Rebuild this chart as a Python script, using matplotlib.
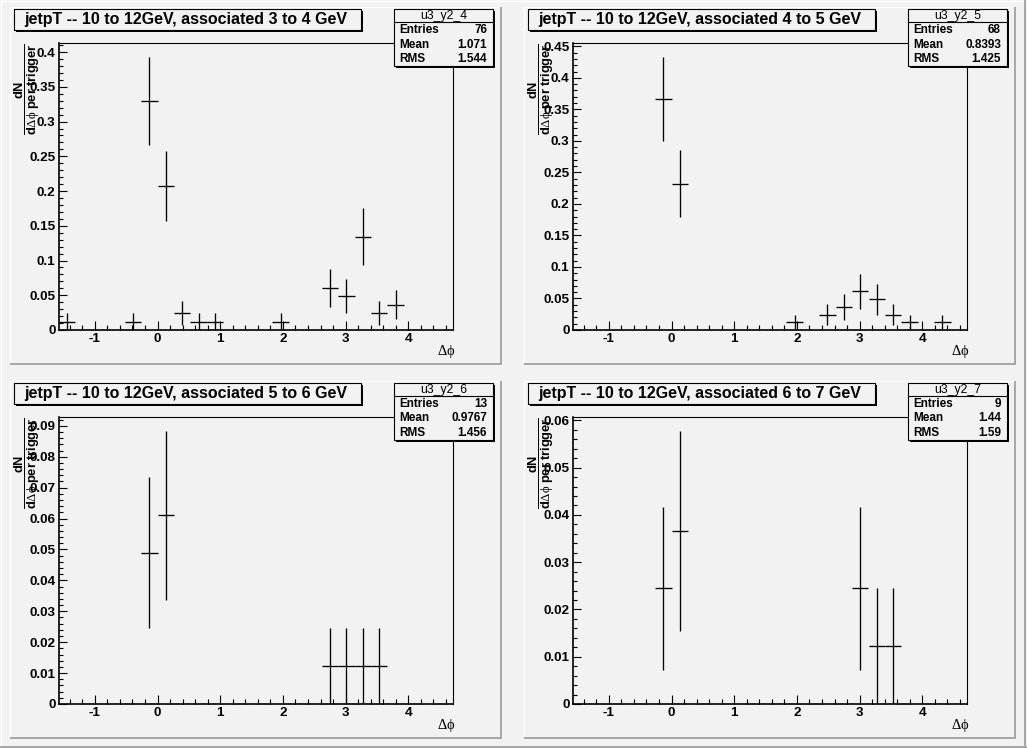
import numpy as np
import matplotlib
matplotlib.use('Agg')
import matplotlib.pyplot as plt
from matplotlib.lines import Line2D
from matplotlib.patches import Rectangle
from matplotlib.ticker import MultipleLocator, FuncFormatter

plt.rcParams['font.family'] = ['Liberation Sans', 'DejaVu Sans']
plt.rcParams['axes.unicode_minus'] = False
plt.rcParams['mathtext.fontset'] = 'custom'
plt.rcParams['mathtext.rm'] = 'Liberation Serif'
plt.rcParams['mathtext.it'] = 'Liberation Serif:italic'
plt.rcParams['mathtext.bf'] = 'Liberation Sans:bold'

W, H = 1027, 748
BG = '#f2f2f2'

# delta phi binning: 24 bins from -pi/2 to 3pi/2
edges = np.linspace(-np.pi / 2, 3 * np.pi / 2, 25)
centers = 0.5 * (edges[1:] + edges[:-1])
halfw = 0.5 * (edges[1] - edges[0])

# raw pair counts per bin, one list per associated pT slice
counts_3to4 = [1, 0, 0, 0, 1, 27, 17, 2, 1, 1, 0, 0, 0, 1, 0, 0, 5, 4, 11, 2, 3, 0, 0, 0]
counts_4to5 = [0, 0, 0, 0, 0, 30, 19, 0, 0, 0, 0, 0, 0, 1, 0, 2, 3, 5, 4, 2, 1, 0, 1, 0]
counts_5to6 = [0, 0, 0, 0, 0, 4, 5, 0, 0, 0, 0, 0, 0, 0, 0, 0, 1, 1, 1, 1, 0, 0, 0, 0]
counts_6to7 = [0, 0, 0, 0, 0, 2, 3, 0, 0, 0, 0, 0, 0, 0, 0, 0, 0, 2, 1, 1, 0, 0, 0, 0]
all_counts = [counts_3to4, counts_4to5, counts_5to6, counts_6to7]

# 1 / (N_trig * bin width)
per_trigger = 0.01222

titles = ['jetpT -- 10 to 12GeV, associated 3 to 4 GeV',
          'jetpT -- 10 to 12GeV, associated 4 to 5 GeV',
          'jetpT -- 10 to 12GeV, associated 5 to 6 GeV',
          'jetpT -- 10 to 12GeV, associated 6 to 7 GeV']
hist_names = ['u3_y2_4', 'u3_y2_5', 'u3_y2_6', 'u3_y2_7']
entries = ['76', '68', '13', '9']
means = ['1.071', '0.8393', '0.9767', '1.44']
rms = ['1.544', '1.425', '1.456', '1.59']
ymajor = [0.05, 0.05, 0.01, 0.01]


def fx(px):
    return px / W


def fy(py):
    return 1 - py / H


def hline(fig, x0, x1, y, color, lw):
    fig.add_artist(Line2D([fx(x0), fx(x1)], [fy(y), fy(y)], transform=fig.transFigure,
                          color=color, lw=lw, solid_capstyle='butt'))


def vline(fig, x, y0, y1, color, lw):
    fig.add_artist(Line2D([fx(x), fx(x)], [fy(y0), fy(y1)], transform=fig.transFigure,
                          color=color, lw=lw, solid_capstyle='butt'))


def box(fig, x0, y0, x1, y1, shadow=2):
    # black drop shadow, then the filled box on top
    fig.add_artist(Rectangle((fx(x0 + shadow), fy(y1 + shadow)), (x1 - x0) / W, (y1 - y0) / H,
                             transform=fig.transFigure, facecolor='black', edgecolor='none', zorder=4))
    fig.add_artist(Rectangle((fx(x0), fy(y1)), (x1 - x0) / W, (y1 - y0) / H,
                             transform=fig.transFigure, facecolor=BG, edgecolor='black', lw=0.8, zorder=5))


fig = plt.figure(figsize=(W / 100, H / 100), dpi=100, facecolor=BG)

# canvas bevel
hline(fig, 0, W, 0.5, 'white', 1.0)
vline(fig, 0.5, 0, H, 'white', 1.0)
hline(fig, 0, W, 746.5, '#a8a8a8', 1.44)
vline(fig, 1024.5, 0, H, '#a8a8a8', 1.44)

for k in range(4):
    ox = 514 * (k % 2)
    oy = 374 * (k // 2)

    # pad bevel
    hline(fig, ox + 10, ox + 501, oy + 7, 'white', 0.9)
    vline(fig, ox + 10, oy + 7, oy + 364, 'white', 0.9)
    hline(fig, ox + 10, ox + 502, oy + 364, '#a8a8a8', 1.44)
    vline(fig, ox + 501, oy + 7, oy + 365, '#a8a8a8', 1.44)

    # frame
    x0, x1, y0, y1 = ox + 59, ox + 453, oy + 43, oy + 330
    ax = fig.add_axes([fx(x0), fy(y1), (x1 - x0) / W, (y1 - y0) / H])
    ax.set_facecolor(BG)

    counts = np.array(all_counts[k], dtype=float)
    vals = counts * per_trigger
    errs = np.sqrt(counts) * per_trigger
    keep = counts > 0
    ax.errorbar(centers[keep], vals[keep], xerr=halfw, yerr=errs[keep], fmt='none',
                ecolor='black', elinewidth=0.95, capsize=0)

    ax.set_xlim(edges[0], edges[-1])
    ax.set_ylim(0, 1.05 * np.max(vals + errs))

    ax.xaxis.set_major_locator(MultipleLocator(1))
    ax.xaxis.set_minor_locator(MultipleLocator(0.2))
    ax.yaxis.set_major_locator(MultipleLocator(ymajor[k]))
    ax.yaxis.set_minor_locator(MultipleLocator(ymajor[k] / 5))
    ax.xaxis.set_major_formatter(FuncFormatter(lambda v, p: '%g' % round(v, 6)))
    ax.yaxis.set_major_formatter(FuncFormatter(lambda v, p: '%g' % round(v, 6)))

    ax.tick_params(which='both', direction='in', top=False, right=False, width=0.8)
    ax.tick_params(axis='x', which='major', length=6.8, pad=2.5, labelsize=9.7)
    ax.tick_params(axis='x', which='minor', length=3.8)
    ax.tick_params(axis='y', which='major', length=5.5, pad=2.5, labelsize=9.7)
    ax.tick_params(axis='y', which='minor', length=3.0)
    for lab in ax.get_xticklabels() + ax.get_yticklabels():
        lab.set_fontweight('bold')

    for side in ['left', 'bottom']:
        ax.spines[side].set_linewidth(1.2)
    for side in ['top', 'right']:
        ax.spines[side].set_linewidth(0.8)

    # axis titles
    fig.text(fx(ox + 446), fy(oy + 352), r'$\mathrm{\Delta\phi}$', ha='center', va='center',
             fontsize=10.5)
    fig.text(fx(ox + 27), fy(oy + 43),
             r'$\dfrac{\mathbf{dN}}{\mathbf{d}\mathrm{\Delta\phi}\mathbf{\ per\ trigger}}$',
             rotation=90, ha='center', va='top', fontsize=9.3, zorder=6)

    # title box
    box(fig, ox + 14, oy + 9, ox + 361, oy + 30)
    fig.text(fx(ox + 24), fy(oy + 19.5), titles[k], ha='left', va='center',
             fontsize=11.5, fontweight='bold', zorder=6)

    # stats box
    bx0, bx1, by0, by1 = ox + 394, ox + 493, oy + 9, oy + 66
    box(fig, bx0, by0, bx1, by1)
    fig.add_artist(Line2D([fx(bx0), fx(bx1)], [fy(oy + 22), fy(oy + 22)], transform=fig.transFigure,
                          color='black', lw=0.8, zorder=6))
    fig.text(fx((bx0 + bx1) / 2), fy(oy + 15.5), hist_names[k], ha='center', va='center',
             fontsize=8.8, zorder=6)
    rows = [('Entries', entries[k]), ('Mean', means[k]), ('RMS', rms[k])]
    for j, (name, val) in enumerate(rows):
        yy = oy + 30 + 14.5 * j
        fig.text(fx(bx0 + 5), fy(yy), name, ha='left', va='center',
                 fontsize=8.5, fontweight='bold', zorder=6)
        fig.text(fx(bx1 - 6), fy(yy), val, ha='right', va='center',
                 fontsize=8.5, fontweight='bold', zorder=6)

fig.savefig('out.png', dpi=100, facecolor=BG)
